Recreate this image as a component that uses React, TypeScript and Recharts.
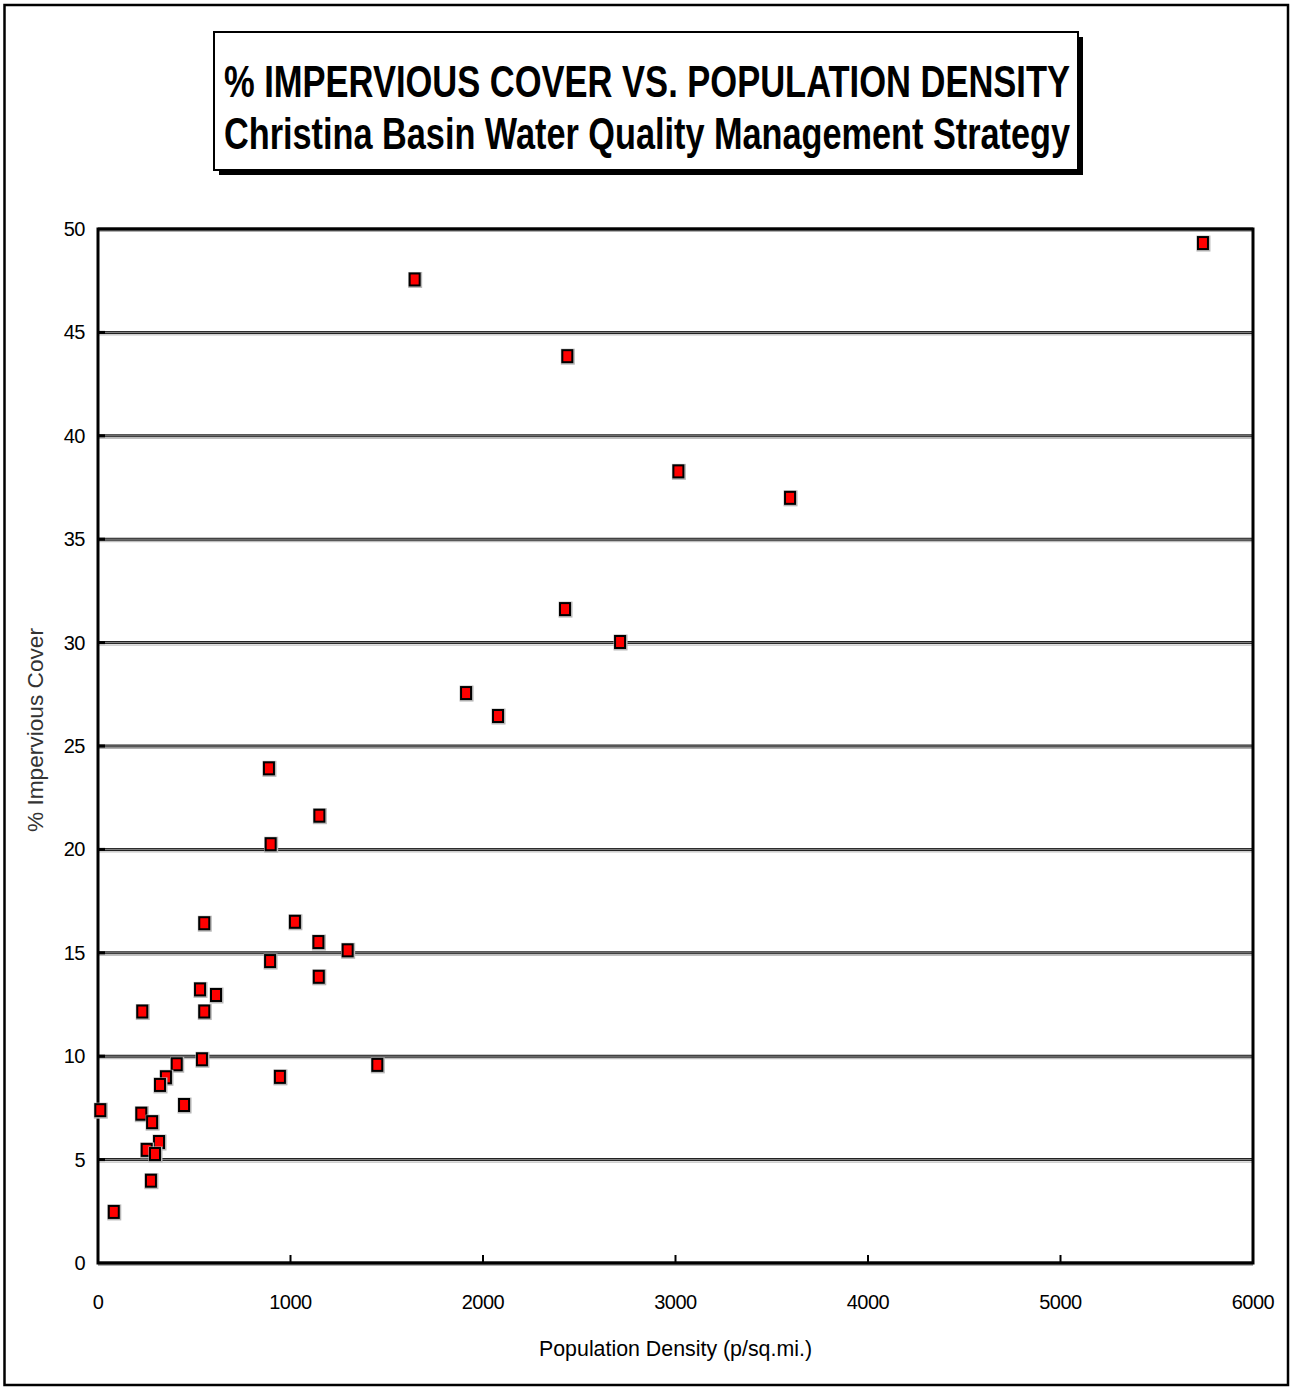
import React from 'react';
import {
  ScatterChart,
  Scatter,
  XAxis,
  YAxis,
  CartesianGrid,
  ReferenceArea,
} from 'recharts';

// Population density (p/sq.mi.) of each sub-watershed
const densityX = [
  5740, 1645, 2438, 3015, 3595, 2426, 2712, 1912, 2078, 888,
  1150, 897, 552, 1023, 1145, 1297, 894, 1147, 530, 613,
  230, 552, 540, 1451, 409, 945, 353, 322, 12, 447,
  225, 281, 317, 253, 296, 275, 82,
];
// % impervious cover of each sub-watershed
const imperviousY = [
  49.32, 47.56, 43.85, 38.28, 37.0, 31.62, 30.03, 27.56, 26.45, 23.92,
  21.63, 20.25, 16.43, 16.5, 15.52, 15.12, 14.6, 13.84, 13.23, 12.96,
  12.16, 12.16, 9.85, 9.58, 9.61, 9.0, 8.98, 8.61, 7.39, 7.64,
  7.22, 6.81, 5.85, 5.47, 5.27, 3.98, 2.47,
];
const xTicks = [0, 1000, 2000, 3000, 4000, 5000, 6000];
const yTicks = [0, 5, 10, 15, 20, 25, 30, 35, 40, 45, 50];

const titleLine1 = '% IMPERVIOUS COVER VS. POPULATION DENSITY';
const titleLine2 = 'Christina Basin Water Quality Management Strategy';
const xTitle = 'Population Density (p/sq.mi.)';
const yTitle = '% Impervious Cover';

const points = densityX.map((x, i) => ({ x, y: imperviousY[i] }));

const FONT = '"Liberation Sans", Arial, sans-serif';
const TITLE_SCALE = 0.78;

const GridLine = (props: any) => {
  const { x1, x2, y1, key } = props;
  return (
    <g key={key}>
      <line x1={x1} x2={x2} y1={y1 + 2.5} y2={y1 + 2.5} stroke="#b0b0b0" strokeWidth={1} />
      <line x1={x1} x2={x2} y1={y1} y2={y1} stroke="#222" strokeWidth={3} />
      <line x1={x1} x2={x2} y1={y1} y2={y1} stroke="#8a8a8a" strokeWidth={1} />
    </g>
  );
};

const XTick = (props: any) => {
  const { x, y, payload } = props;
  return (
    <g>
      {payload.value !== 0 && payload.value !== 6000 && (
        <line x1={x} x2={x} y1={y} y2={y - 8} stroke="#000" strokeWidth={2} />
      )}
      <text
        x={x}
        y={y + 46}
        textAnchor="middle"
        fontSize={20}
        letterSpacing={-0.5}
        fill="#000"
        fontFamily={FONT}
      >
        {payload.value}
      </text>
    </g>
  );
};

const YTick = (props: any) => {
  const { x, y, payload } = props;
  return (
    <g>
      {payload.value !== 0 && payload.value !== 50 && (
        <line x1={x} x2={x + 7} y1={y} y2={y} stroke="#000" strokeWidth={3} />
      )}
      <text
        x={x - 13}
        y={y + 7}
        textAnchor="end"
        fontSize={20}
        letterSpacing={-0.5}
        fill="#000"
        fontFamily={FONT}
      >
        {payload.value}
      </text>
    </g>
  );
};

const Marker = (props: any) => {
  const { cx, cy } = props;
  if (cx == null || cy == null) return <g />;
  return (
    <g>
      <rect x={cx - 6.5} y={cy - 7.5} width={14} height={16} fill="#b8b8b8" />
      <rect x={cx - 6} y={cy - 7} width={12} height={14} fill="#000" />
      <rect x={cx - 4} y={cy - 5} width={8} height={10} fill="#ff0000" />
    </g>
  );
};

const XLabel = (props: any) => {
  const { viewBox } = props;
  const cx = viewBox.x + viewBox.width / 2;
  return (
    <text
      x={cx}
      y={viewBox.y + 93}
      textAnchor="middle"
      fontSize={22}
      textLength={273}
      lengthAdjust="spacingAndGlyphs"
      fill="#000"
      fontFamily={FONT}
    >
      {xTitle}
    </text>
  );
};

const YLabel = (props: any) => {
  const { viewBox } = props;
  const cy = viewBox.y + viewBox.height / 2 - 16;
  const bx = 43;
  return (
    <text
      x={bx}
      y={cy}
      transform={`rotate(-90, ${bx}, ${cy})`}
      textAnchor="middle"
      fontSize={22}
      textLength={204}
      lengthAdjust="spacingAndGlyphs"
      fill="#333"
      fontFamily={FONT}
    >
      {yTitle}
    </text>
  );
};

const TitleLine = ({ text, y }: { text: string; y: number }) => (
  <g transform={`translate(647, ${y}) scale(${TITLE_SCALE}, 1)`}>
    <text
      x={0}
      y={0}
      textAnchor="middle"
      fontSize={44}
      fontWeight="bold"
      textLength={846 / TITLE_SCALE}
      lengthAdjust="spacingAndGlyphs"
      fill="#000"
      fontFamily={FONT}
    >
      {text}
    </text>
  </g>
);

export default function App() {
  return (
    <div
      style={{
        position: 'absolute',
        left: 0,
        top: 0,
        width: 1291,
        height: 1387,
        background: '#fff',
        fontFamily: FONT,
      }}
    >
      <ScatterChart
        width={1291}
        height={1387}
        margin={{ top: 229, right: 38, bottom: 64, left: 38 }}
      >
        <CartesianGrid vertical={false} horizontal={GridLine} />
        <XAxis
          type="number"
          dataKey="x"
          domain={[0, 6000]}
          ticks={xTicks}
          interval={0}
          tick={XTick}
          tickLine={false}
          tickSize={0}
          tickMargin={0}
          axisLine={false}
          height={60}
          label={<XLabel />}
        />
        <YAxis
          type="number"
          dataKey="y"
          domain={[0, 50]}
          ticks={yTicks}
          interval={0}
          tick={YTick}
          tickLine={false}
          tickSize={0}
          tickMargin={0}
          axisLine={false}
          width={60}
          label={<YLabel />}
        />
        <ReferenceArea
          x1={0}
          x2={6000}
          y1={0}
          y2={50}
          fill="none"
          fillOpacity={0}
          stroke="#000"
          strokeWidth={3}
          ifOverflow="visible"
        />
        <Scatter data={points} shape={Marker} isAnimationActive={false} />
      </ScatterChart>
      <svg
        width={1291}
        height={1387}
        style={{ position: 'absolute', left: 0, top: 0, pointerEvents: 'none' }}
      >
        <rect x={4.5} y={5} width={1283.5} height={1380} fill="none" stroke="#000" strokeWidth={2.5} />
        <rect x={219} y={37} width={864} height={138} fill="#000" />
        <rect x={214} y={32} width={864} height={138} fill="#fff" stroke="#000" strokeWidth={2} />
        <TitleLine text={titleLine1} y={97} />
        <TitleLine text={titleLine2} y={149} />
      </svg>
    </div>
  );
}
